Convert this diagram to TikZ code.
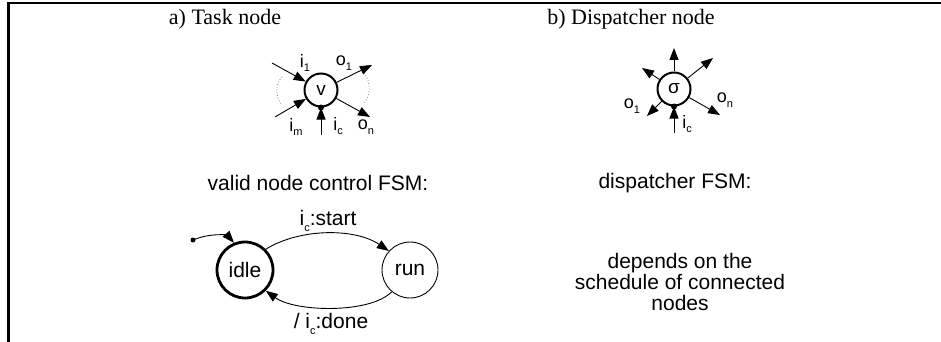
\documentclass[tikz,border=0pt]{standalone}
\usepackage{fontspec}
\setmainfont{Liberation Serif}
\setsansfont{Liberation Sans}
\usetikzlibrary{arrows.meta}
% small lowered index for port names
\newcommand\lo[1]{\raisebox{-0.5ex}{\fontsize{11}{11}\selectfont #1}}
\begin{document}
\begin{tikzpicture}[x=1pt,y=-1pt,
  title/.style={font=\rmfamily\fontsize{22}{22}\selectfont},
  txt/.style={font=\sffamily\fontsize{21}{21}\selectfont, inner sep=0pt},
  lbl/.style={font=\sffamily\fontsize{18}{18}\selectfont, inner sep=0pt},
  procnode/.style={circle, draw, line width=2pt, minimum size=33pt, inner sep=0pt,
                   font=\sffamily\fontsize{19}{19}\selectfont},
  fsmstate/.style={circle, draw, minimum size=56pt, inner sep=0pt,
                   font=\sffamily\fontsize{21}{21}\selectfont},
  arr/.style={line width=0.9pt, -{Triangle[length=12pt,width=9pt]}},
  port/.style={dotted, line width=0.8pt, gray},
]
\useasboundingbox (0,0) rectangle (941,342);
% frame
\draw[line width=2.7pt] (8.5,342) -- (8.5,3) -- (941,3);

% titles
\node[title] (ta) at (225,19) {a) Task node};
\node[title] (tb) at (631,19) {b) Dispatcher node};

% ---- task node ----
\node[procnode] (v) at (321,90) {v};
\coordinate (i1s) at (272,63);
\coordinate (ims) at (275,117);
\coordinate (ics) at (321,135);
\coordinate (o1e) at (372,65);
\coordinate (one) at (370,117);
\draw[arr] (i1s) -- (v);
\draw[arr] (ims) -- (v);
\draw[arr] (ics) -- (v.south);
\fill (v.south) circle (3pt);
\draw[arr] (v) -- (o1e);
\draw[arr] (v) -- (one);
\draw[port] (282,77) .. controls (275,84) and (275,97) .. (282,105);
\draw[port] (364,73) .. controls (371,82) and (371,95) .. (364,103);
\node[lbl] (li1) at (305,63) {i\lo{1}};
\node[lbl] (lim) at (296,127) {i\lo{m}};
\node[lbl] (lic) at (338,126) {i\lo{c}};
\node[lbl] (lo1) at (344,63) {o\lo{1}};
\node[lbl] (lon) at (366,127) {o\lo{n}};

% ---- dispatcher node ----
\node[procnode] (s) at (674,89) {σ};
\coordinate (d1) at (674,48);
\coordinate (d2) at (642,68);
\coordinate (d3) at (713,58);
\coordinate (d4) at (647,116);
\coordinate (d5) at (720,115);
\coordinate (dcs) at (674,133);
\draw[arr] (s) -- (d1);
\draw[arr] (s) -- (d2);
\draw[arr] (s) -- (d3);
\draw[arr] (s) -- (d4);
\draw[arr] (s) -- (d5);
\draw[arr] (dcs) -- (s.south);
\fill (s.south) circle (3pt);
\node[lbl] (ldo1) at (632,106) {o\lo{1}};
\node[lbl] (ldon) at (725,100) {o\lo{n}};
\node[lbl] (ldic) at (687,124) {i\lo{c}};

% ---- captions ----
\node[txt] (fa) at (318,183) {valid node control FSM:};
\node[txt] (fb) at (675,183) {dispatcher FSM:};
\node[txt, align=center] (dep) at (680,282) {depends on the\\schedule of connected\\nodes};

% ---- control FSM ----
\node[fsmstate, line width=2.8pt] (idle) at (245,270) {idle};
\node[fsmstate, line width=0.9pt] (run) at (410,270) {run};
\coordinate (init) at (193,240);
\fill (init) circle (2.5pt);
\draw[arr] (init) .. controls (212,232) and (228,236) .. (idle.112);
\draw[arr] (idle.45) .. controls (300,228) and (355,228) .. (run.138);
\node[txt] (lstart) at (328,221) {i\lo{c}:start};
\draw[arr] (run.-130) .. controls (370,314) and (295,312) .. (idle.-45);
\node[txt] (ldone) at (331,324) {/ i\lo{c}:done};
\end{tikzpicture}
\end{document}
